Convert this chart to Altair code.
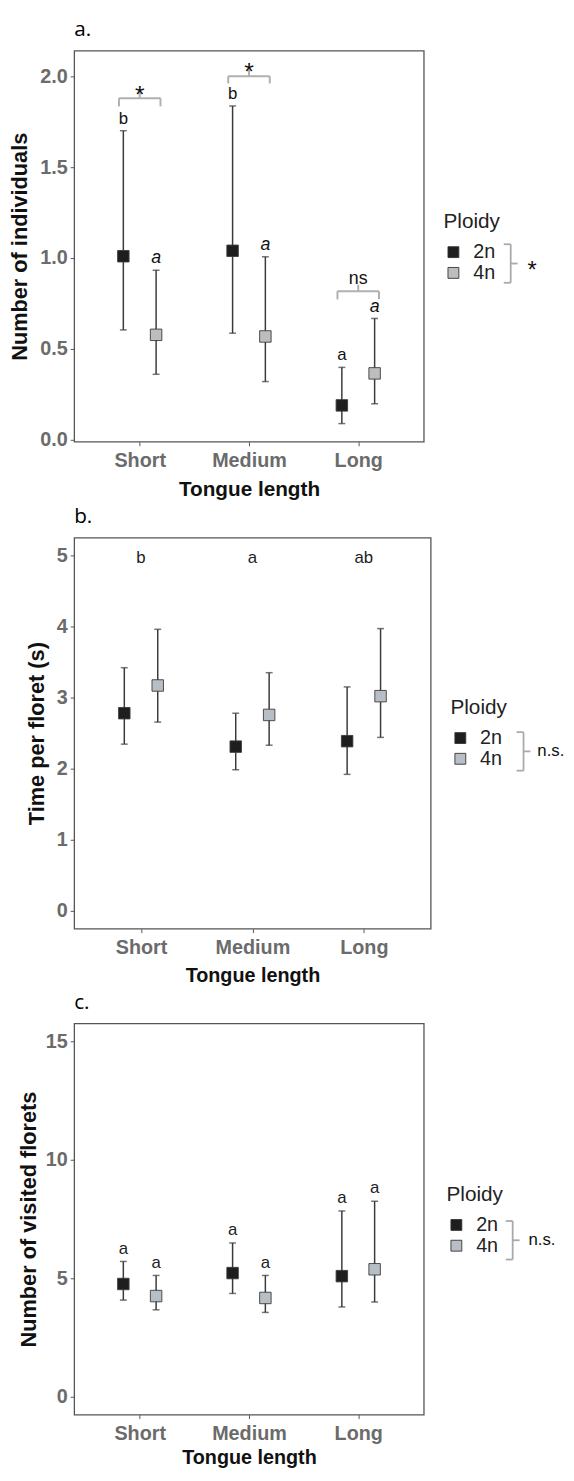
import altair as alt
import pandas as pd

categories = ["Short", "Medium", "Long"]
ploidy_levels = ["2n", "4n"]
fill_colors_a = ["#1e1e1e", "#bdbdbd"]
fill_colors_bc = ["#1e1e1e", "#b8bec5"]
dodge = 0.15
bracket_half = 0.19

# ---- panel a: number of individuals ----
a_mean_2n = [1.01, 1.04, 0.19]
a_lo_2n = [0.605, 0.587, 0.09]
a_hi_2n = [1.70, 1.836, 0.399]
a_mean_4n = [0.578, 0.569, 0.366]
a_lo_4n = [0.361, 0.321, 0.199]
a_hi_4n = [0.933, 1.007, 0.668]
a_letters_2n = ["b", "b", "a"]
a_letters_4n = ["a", "a", "a"]
a_brk_level = [1.879, 2.0, 0.818]
a_brk_tip = [1.834, 1.96, 0.773]
a_brk_peak = [1.92, 2.036, 0.854]
a_brk_text = ["*", "*", "ns"]
a_brk_text_y = [1.855, 1.98, 0.855]
a_yticks = [0.0, 0.5, 1.0, 1.5, 2.0]

# ---- panel b: time per floret ----
b_mean_2n = [2.78, 2.31, 2.387]
b_lo_2n = [2.345, 1.985, 1.92]
b_hi_2n = [3.42, 2.78, 3.15]
b_mean_4n = [3.17, 2.756, 3.02]
b_lo_4n = [2.655, 2.33, 2.44]
b_hi_4n = [3.96, 3.35, 3.97]
b_letters = ["b", "a", "ab"]
b_letter_y = [4.89, 4.89, 4.89]
b_yticks = [0, 1, 2, 3, 4, 5]

# ---- panel c: number of visited florets ----
c_mean_2n = [4.76, 5.22, 5.09]
c_lo_2n = [4.08, 4.36, 3.79]
c_hi_2n = [5.71, 6.49, 7.84]
c_mean_4n = [4.25, 4.17, 5.38]
c_lo_4n = [3.67, 3.56, 4.0]
c_hi_4n = [5.12, 5.12, 8.25]
c_letters_2n = ["a", "a", "a"]
c_letters_4n = ["a", "a", "a"]
c_yticks = [0, 5, 10, 15]

LABEL_EXPR = "[" + ",".join("'%s'" % c for c in categories) + "][datum.value - 1]"
AX_FONT = "Liberation Sans"


def points_df(m2, lo2, hi2, m4, lo4, hi4, let2=None, let4=None):
    rows = []
    for i, cat in enumerate(categories):
        rows.append(dict(cat=cat, ploidy="2n", pos=i + 1 - dodge, mean=m2[i], lo=lo2[i], hi=hi2[i],
                         letter=(let2[i] if let2 else "")))
        rows.append(dict(cat=cat, ploidy="4n", pos=i + 1 + dodge, mean=m4[i], lo=lo4[i], hi=hi4[i],
                         letter=(let4[i] if let4 else "")))
    return pd.DataFrame(rows)


def make_x(xtitle_size, xtitle_pad):
    def x_enc(field="pos"):
        return alt.X(f"{field}:Q", scale=alt.Scale(domain=[0.4, 3.6], nice=False, zero=False),
                     axis=alt.Axis(values=[1, 2, 3], labelExpr=LABEL_EXPR, title="Tongue length",
                                   labelPadding=5, titlePadding=xtitle_pad, labelFontSize=20,
                                   titleFontSize=xtitle_size))
    return x_enc


def y_enc(field, domain, ticks, title, fmt, title_pad):
    return alt.Y(f"{field}:Q", scale=alt.Scale(domain=domain, nice=False, zero=False),
                 axis=alt.Axis(values=ticks, format=fmt, title=title, labelPadding=3,
                               titlePadding=title_pad, labelFontSize=20, titleFontSize=22))


def legend_parts(vx, top, bot, tx, sig_text, sig_size, sig_dy):
    """Bracket and significance mark beside the legend (pixel offsets from the plot origin)."""
    one = pd.DataFrame({"k": [0]})
    mid = (top + bot) / 2
    col = "#a9a9a9"
    r1 = alt.Chart(one).mark_rule(color=col, strokeWidth=1.8).encode(
        x=alt.value(vx), y=alt.value(top), y2=alt.value(bot))
    r2 = alt.Chart(one).mark_rule(color=col, strokeWidth=1.8).encode(
        x=alt.value(vx - 7), x2=alt.value(vx), y=alt.value(top))
    r3 = alt.Chart(one).mark_rule(color=col, strokeWidth=1.8).encode(
        x=alt.value(vx - 7), x2=alt.value(vx), y=alt.value(bot))
    r4 = alt.Chart(one).mark_rule(color=col, strokeWidth=1.8).encode(
        x=alt.value(vx), x2=alt.value(vx + 7), y=alt.value(mid))
    t = alt.Chart(one).mark_text(text=sig_text, align="left", baseline="middle", fontSize=sig_size,
                                 font=AX_FONT, color="#111").encode(
        x=alt.value(tx), y=alt.value(mid + sig_dy))
    return [r1, r2, r3, r4, t]


def panel(df, x_enc, ydomain, yticks, ytitle, fmt, title_pad, colors, letter, lx, ly, brk, width,
          height=396, letter_layers=None, extra=None):
    base = alt.Chart(df)
    y_mean = y_enc("mean", ydomain, yticks, ytitle, fmt, title_pad)
    whisk = base.mark_rule(color="#3a3a3a", strokeWidth=1.5).encode(
        x=x_enc(), y=y_enc("lo", ydomain, yticks, ytitle, fmt, title_pad), y2="hi:Q")
    cap_lo = base.mark_tick(orient="horizontal", size=7, thickness=1.5, color="#3a3a3a").encode(
        x=x_enc(), y=y_enc("lo", ydomain, yticks, ytitle, fmt, title_pad))
    cap_hi = base.mark_tick(orient="horizontal", size=7, thickness=1.5, color="#3a3a3a").encode(
        x=x_enc(), y=y_enc("hi", ydomain, yticks, ytitle, fmt, title_pad))
    pts = base.mark_square(size=135, opacity=1, stroke="#3c3c3c", strokeWidth=0.9).encode(
        x=x_enc(), y=y_mean,
        fill=alt.Fill("ploidy:N", scale=alt.Scale(domain=ploidy_levels, range=colors),
                      legend=alt.Legend(title="Ploidy", orient="none", legendX=lx, legendY=ly,
                                        symbolType="square", symbolSize=121,
                                        symbolStrokeColor="#333", symbolStrokeWidth=0.9,
                                        symbolOffset=0, labelOffset=10,
                                        titleFont=AX_FONT, titleFontSize=21, titleFontWeight="normal",
                                        titleColor="#222", titlePadding=10,
                                        labelFont=AX_FONT, labelFontSize=20, labelColor="#222",
                                        rowPadding=1)))
    layers = [whisk, cap_lo, cap_hi, pts]
    if letter_layers:
        layers += letter_layers
    if extra:
        layers += extra
    layers += legend_parts(*brk)
    return alt.layer(*layers).properties(
        width=width, height=height,
        title=alt.TitleParams(letter, anchor="start", frame="group", font="Open Sans", fontSize=21,
                              fontWeight="normal", color="#000", offset=11))


# ---------- panel a ----------
xa = make_x(21, 8)
df_a = points_df(a_mean_2n, a_lo_2n, a_hi_2n, a_mean_4n, a_lo_4n, a_hi_4n, a_letters_2n, a_letters_4n)
a_dom = [-0.01, 2.14]
a_y = lambda f: y_enc(f, a_dom, a_yticks, "Number of individuals", ".1f", 8)
let_a_2n = alt.Chart(df_a).transform_filter("datum.ploidy == '2n'").mark_text(
    font=AX_FONT, fontSize=17, baseline="alphabetic", dy=-7, color="#111").encode(
    x=xa(), y=a_y("hi"), text="letter:N")
let_a_4n = alt.Chart(df_a).transform_filter("datum.ploidy == '4n'").mark_text(
    font=AX_FONT, fontSize=18, fontStyle="italic", baseline="alphabetic", dy=-7, color="#111").encode(
    x=xa(), y=a_y("hi"), text="letter:N")

brk_rows = []
for i in range(3):
    c = i + 1
    brk_rows.append(dict(x=c - bracket_half, x2=c + bracket_half, y=a_brk_level[i], y2=a_brk_level[i]))
    brk_rows.append(dict(x=c - bracket_half, x2=c - bracket_half, y=a_brk_tip[i], y2=a_brk_level[i]))
    brk_rows.append(dict(x=c + bracket_half, x2=c + bracket_half, y=a_brk_tip[i], y2=a_brk_level[i]))
    brk_rows.append(dict(x=c, x2=c, y=a_brk_level[i], y2=a_brk_peak[i]))
brk_df = pd.DataFrame(brk_rows)
brackets = alt.Chart(brk_df).mark_rule(color="#b0b0b0", strokeWidth=2).encode(
    x=xa("x"), x2="x2:Q", y=a_y("y"), y2="y2:Q")
brk_txt_df = pd.DataFrame({"x": [1, 2, 3], "y": a_brk_text_y, "t": a_brk_text})
brk_star = alt.Chart(brk_txt_df).transform_filter("datum.t == '*'").mark_text(
    font=AX_FONT, fontSize=25, baseline="alphabetic", color="#111").encode(
    x=xa("x"), y=a_y("y"), text="t:N")
brk_ns = alt.Chart(brk_txt_df).transform_filter("datum.t != '*'").mark_text(
    font=AX_FONT, fontSize=18, baseline="alphabetic", color="#111").encode(
    x=xa("x"), y=a_y("y"), text="t:N")

panel_a = panel(df_a, xa, a_dom, a_yticks, "Number of individuals", ".1f", 8, fill_colors_a, "a.",
                374, 163, (442, 196, 235, 459, "*", 24, 8), 354,
                letter_layers=[let_a_2n, let_a_4n], extra=[brackets, brk_star, brk_ns])

# ---------- panel b ----------
xb = make_x(20, 8)
df_b = points_df(b_mean_2n, b_lo_2n, b_hi_2n, b_mean_4n, b_lo_4n, b_hi_4n)
b_dom = [-0.25, 5.25]
b_y = lambda f: y_enc(f, b_dom, b_yticks, "Time per floret (s)", "d", 8)
b_let_df = pd.DataFrame({"x": [1, 2, 3], "y": b_letter_y, "t": b_letters})
let_b = alt.Chart(b_let_df).mark_text(font=AX_FONT, fontSize=17, baseline="alphabetic", color="#222").encode(
    x=xb("x"), y=b_y("y"), text="t:N")
panel_b = panel(df_b, xb, b_dom, b_yticks, "Time per floret (s)", "d", 8, fill_colors_bc, "b.",
                381, 162, (455, 197, 236, 469, "n.s.", 17, 0), 361, letter_layers=[let_b])

# ---------- panel c ----------
xc = make_x(20, 5)
df_c = points_df(c_mean_2n, c_lo_2n, c_hi_2n, c_mean_4n, c_lo_4n, c_hi_4n, c_letters_2n, c_letters_4n)
c_dom = [-0.75, 15.75]
c_y = lambda f: y_enc(f, c_dom, c_yticks, "Number of visited florets", "d", 5)
let_c = alt.Chart(df_c).mark_text(font=AX_FONT, fontSize=17, baseline="alphabetic", dy=-8, color="#222").encode(
    x=xc(), y=c_y("hi"), text="letter:N")
panel_c = panel(df_c, xc, c_dom, c_yticks, "Number of visited florets", "d", 5, fill_colors_bc, "c.",
                377, 163, (444, 200, 239, 460, "n.s.", 17, 0), 354, letter_layers=[let_c])

chart = alt.vconcat(panel_a, panel_b, panel_c, spacing=5).resolve_scale(
    fill="independent").resolve_legend(fill="independent").properties(
    padding={"left": 0, "top": 1, "right": 0, "bottom": 0}
).configure_view(stroke="#555555", strokeWidth=1.3).configure_axis(
    grid=False, domain=False, tickColor="#555555", tickSize=4, tickWidth=1,
    labelFont=AX_FONT, labelFontWeight="bold", labelColor="#6b6b6b",
    titleFont=AX_FONT, titleFontWeight="bold", titleColor="#111111"
).configure_concat(spacing=5)

chart.save("out.html", embed_options={"renderer": "svg", "actions": False})
